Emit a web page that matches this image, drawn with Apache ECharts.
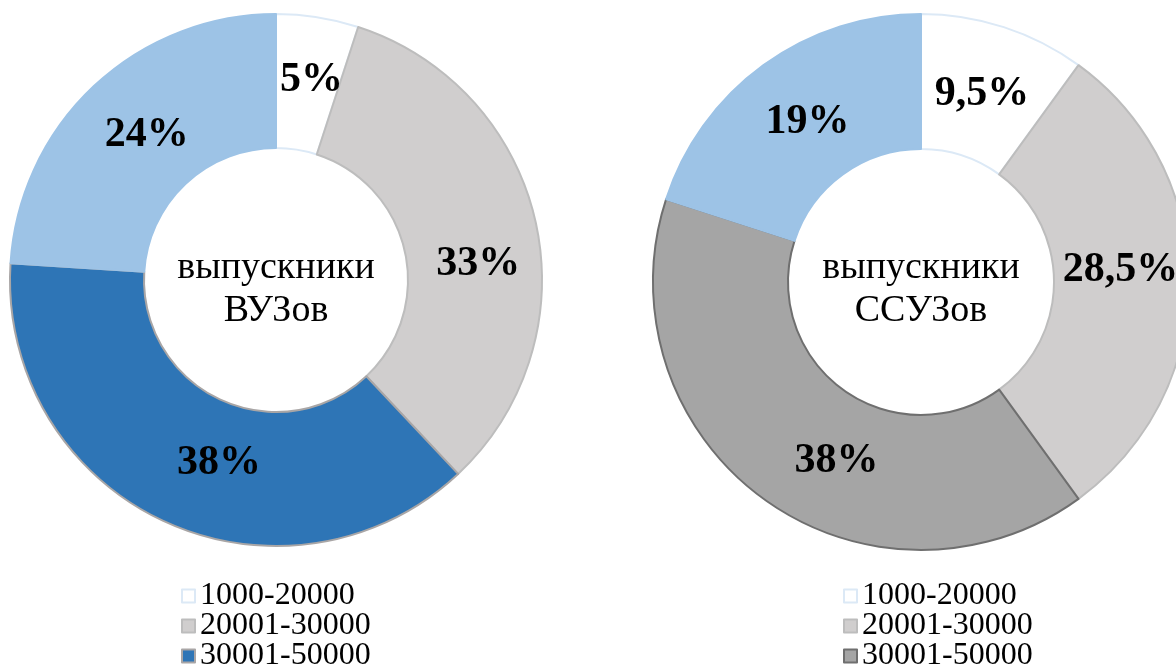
<!DOCTYPE html>
<html>
<head>
<meta charset="utf-8">
<script src="https://cdn.jsdelivr.net/npm/echarts@6/dist/echarts.min.js"></script>
<style>
	html, body { margin: 0; padding: 0; background: #fff; }
	#wrap { position: relative; width: 1176px; height: 664px; overflow: hidden; }
	#vuz  { position: absolute; left: 0;   top: 0; width: 598px; height: 720px; }
	#ssuz { position: absolute; left: 598px; top: 0; width: 578px; height: 720px; }
</style>
</head>
<body>
<div id="wrap">
	<div id="vuz"></div>
	<div id="ssuz"></div>
</div>
<script>
	// DADOS
	var faixas      = ['1000-20000', '20001-30000', '30001-50000', 'свыше 50000'];
	var legendaItens = ['1000-20000', '20001-30000', '30001-50000'];

	var vuzValores  = [5, 33, 38, 24];
	var vuzRotulos  = ['5%', '33%', '38%', '24%'];

	var ssuzValores = [9.5, 28.5, 38, 19];
	var ssuzRotulos = ['9,5%', '28,5%', '38%', '19%'];

	// cores de cada fatia (preenchimento | borda)
	var vuzCores    = ['#ffffff', '#d0cece', '#2e75b6', '#9dc3e6'];
	var vuzBordas   = ['#dce9f6', '#bdbdbd', '#a9a6a6', '#9dc3e6'];
	var ssuzCores   = ['#ffffff', '#d0cece', '#a5a5a5', '#9dc3e6'];
	var ssuzBordas  = ['#dce9f6', '#bdbdbd', '#6f6f6f', '#9dc3e6'];

	// ajuste fino dos rótulos (deslocamento em px)
	var vuzAjuste   = [[4, 0], [5, 28], [29, 0], [9, 2]];
	var ssuzAjuste  = [[-2, 6], [-4, -12], [35, 15], [6, 5]];

	var fonte = 'Liberation Serif, Times New Roman, serif';

	// UTILIZANDO O ECHART.JS - rosca com texto no centro
	var rosca = function(id, valores, rotulos, cores, bordas, ajuste, titulo, cx, cy, raios, legX, textoY){
		var myChart = echarts.init(document.getElementById(id));
		var dados = [];
		for (var i = 0; i < valores.length; i++) {
			dados.push({
				name: faixas[i],
				value: valores[i],
				rotulo: rotulos[i],
				label: { offset: ajuste[i] },
				itemStyle: { color: cores[i], borderColor: bordas[i], borderWidth: 2 }
			});
		}
		var legenda = [];
		for (var j = 0; j < legendaItens.length; j++) {
			legenda.push({
				name: legendaItens[j],
				itemStyle: { color: cores[j], borderColor: bordas[j], borderWidth: 2 }
			});
		}

		var option = {
			animation: false,
			legend: {
				orient: 'vertical',
				left: legX,
				top: 575,
				height: 120,
				icon: 'rect',
				itemWidth: 13,
				itemHeight: 13,
				itemGap: -2,
				selectedMode: false,
				data: legenda,
				textStyle: { fontFamily: fonte, fontSize: 32, color: '#000', lineHeight: 30 }
			},
			graphic: [{
				type: 'text',
				x: cx,
				y: textoY,
				silent: true,
				style: {
					text: titulo,
					fontFamily: fonte,
					fontSize: 38,
					lineHeight: 43,
					fill: '#000',
					align: 'center',
					verticalAlign: 'middle'
				}
			}],
			series: [{
				type: 'pie',
				silent: true,
				center: [cx, cy],
				radius: raios,
				startAngle: 90,
				clockwise: true,
				avoidLabelOverlap: false,
				label: {
					show: true,
					position: 'inside',
					formatter: function(p){ return p.data.rotulo; },
					fontFamily: fonte,
					fontSize: 42,
					fontWeight: 'bold',
					color: '#000'
				},
				labelLine: { show: false },
				data: dados
			}]
		};
		// aplico as alterações de layout no chart
		myChart.setOption(option);
	};

	rosca('vuz',  vuzValores,  vuzRotulos,  vuzCores,  vuzBordas,  vuzAjuste,  'выпускники\nВУЗов',  276, 280, [132, 266], 176, 290);
	rosca('ssuz', ssuzValores, ssuzRotulos, ssuzCores, ssuzBordas, ssuzAjuste, 'выпускники\nССУЗов', 323, 282, [133, 268], 240, 290);
</script>
</body>
</html>
